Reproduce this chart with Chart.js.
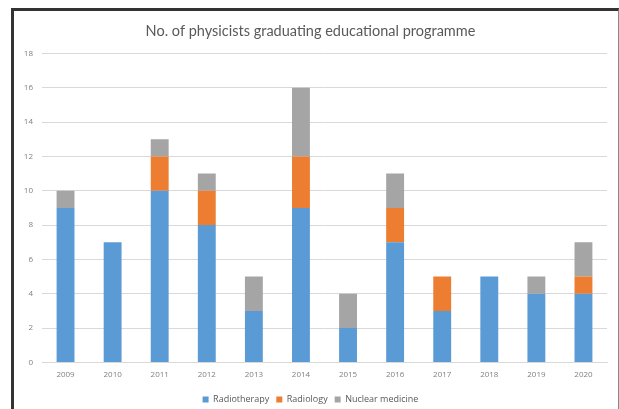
<!DOCTYPE html>
<html>
<head>
<meta charset="utf-8">
<script src="https://cdn.jsdelivr.net/npm/chart.js@4/dist/chart.umd.min.js"></script>
<style>
  html, body { margin: 0; padding: 0; background: #fff; }
  body { width: 619px; height: 409px; overflow: hidden; position: relative; }
  #frame {
    position: absolute; left: 11px; top: 8px; width: 604px; height: 410px;
    border-left: 3px solid #333; border-top: 3px solid #333; border-right: 1px solid #888;
  }
  #wrap { position: absolute; left: 14px; top: 11px; width: 603px; height: 398px; }
</style>
</head>
<body>
<div id="frame"></div>
<div id="wrap"><canvas id="chart"></canvas></div>
<script>
  const years = ["2009", "2010", "2011", "2012", "2013", "2014", "2015", "2016", "2017", "2018", "2019", "2020"];
  const radiotherapy = [9, 7, 10, 8, 3, 9, 2, 7, 3, 5, 4, 4];
  const radiology = [0, 0, 2, 2, 0, 3, 0, 2, 2, 0, 0, 1];
  const nuclearMedicine = [1, 0, 1, 1, 2, 4, 2, 2, 0, 0, 1, 2];
  const yTicks = [0, 2, 4, 6, 8, 10, 12, 14, 16, 18];

  const font = "'Open Sans', 'Liberation Sans', sans-serif";

  const ctx = document.getElementById("chart").getContext("2d");
  new Chart(ctx, {
    type: "bar",
    data: {
      labels: years,
      datasets: [
        { label: "Radiotherapy", data: radiotherapy, backgroundColor: "#5b9bd5" },
        { label: "Radiology", data: radiology, backgroundColor: "#ed7d31" },
        { label: "Nuclear medicine", data: nuclearMedicine, backgroundColor: "#a5a5a5" },
      ],
    },
    options: {
      responsive: true,
      maintainAspectRatio: false,
      animation: false,
      datasets: { bar: { categoryPercentage: 1, barPercentage: 0.38 } },
      layout: { padding: { left: 0, right: 10, top: 12, bottom: -5 } },
      plugins: {
        title: {
          display: true,
          text: "No. of physicists graduating educational programme",
          color: "#595959",
          font: { family: "Lato, sans-serif", size: 14.5, weight: "normal" },
          padding: { top: 0, bottom: 13 },
        },
        legend: {
          position: "bottom",
          labels: {
            boxWidth: 6,
            boxHeight: 6,
            color: "#595959",
            font: { family: font, size: 9 },
            padding: 7,
          },
        },
        tooltip: { enabled: false },
      },
      scales: {
        x: {
          stacked: true,
          grid: { display: false, drawTicks: false },
          border: { color: "#d9d9d9" },
          ticks: { color: "#7f7f7f", font: { family: font, size: 8 }, padding: 8 },
        },
        y: {
          stacked: true,
          min: 0,
          max: 18,
          afterFit: (s) => { s.width = 28; },
          afterBuildTicks: (s) => { s.ticks = yTicks.map((v) => ({ value: v })); },
          grid: { color: "#d9d9d9", drawTicks: false },
          border: { display: false },
          ticks: { color: "#7f7f7f", font: { family: font, size: 8 }, padding: 9 },
        },
      },
    },
  });
</script>
</body>
</html>
